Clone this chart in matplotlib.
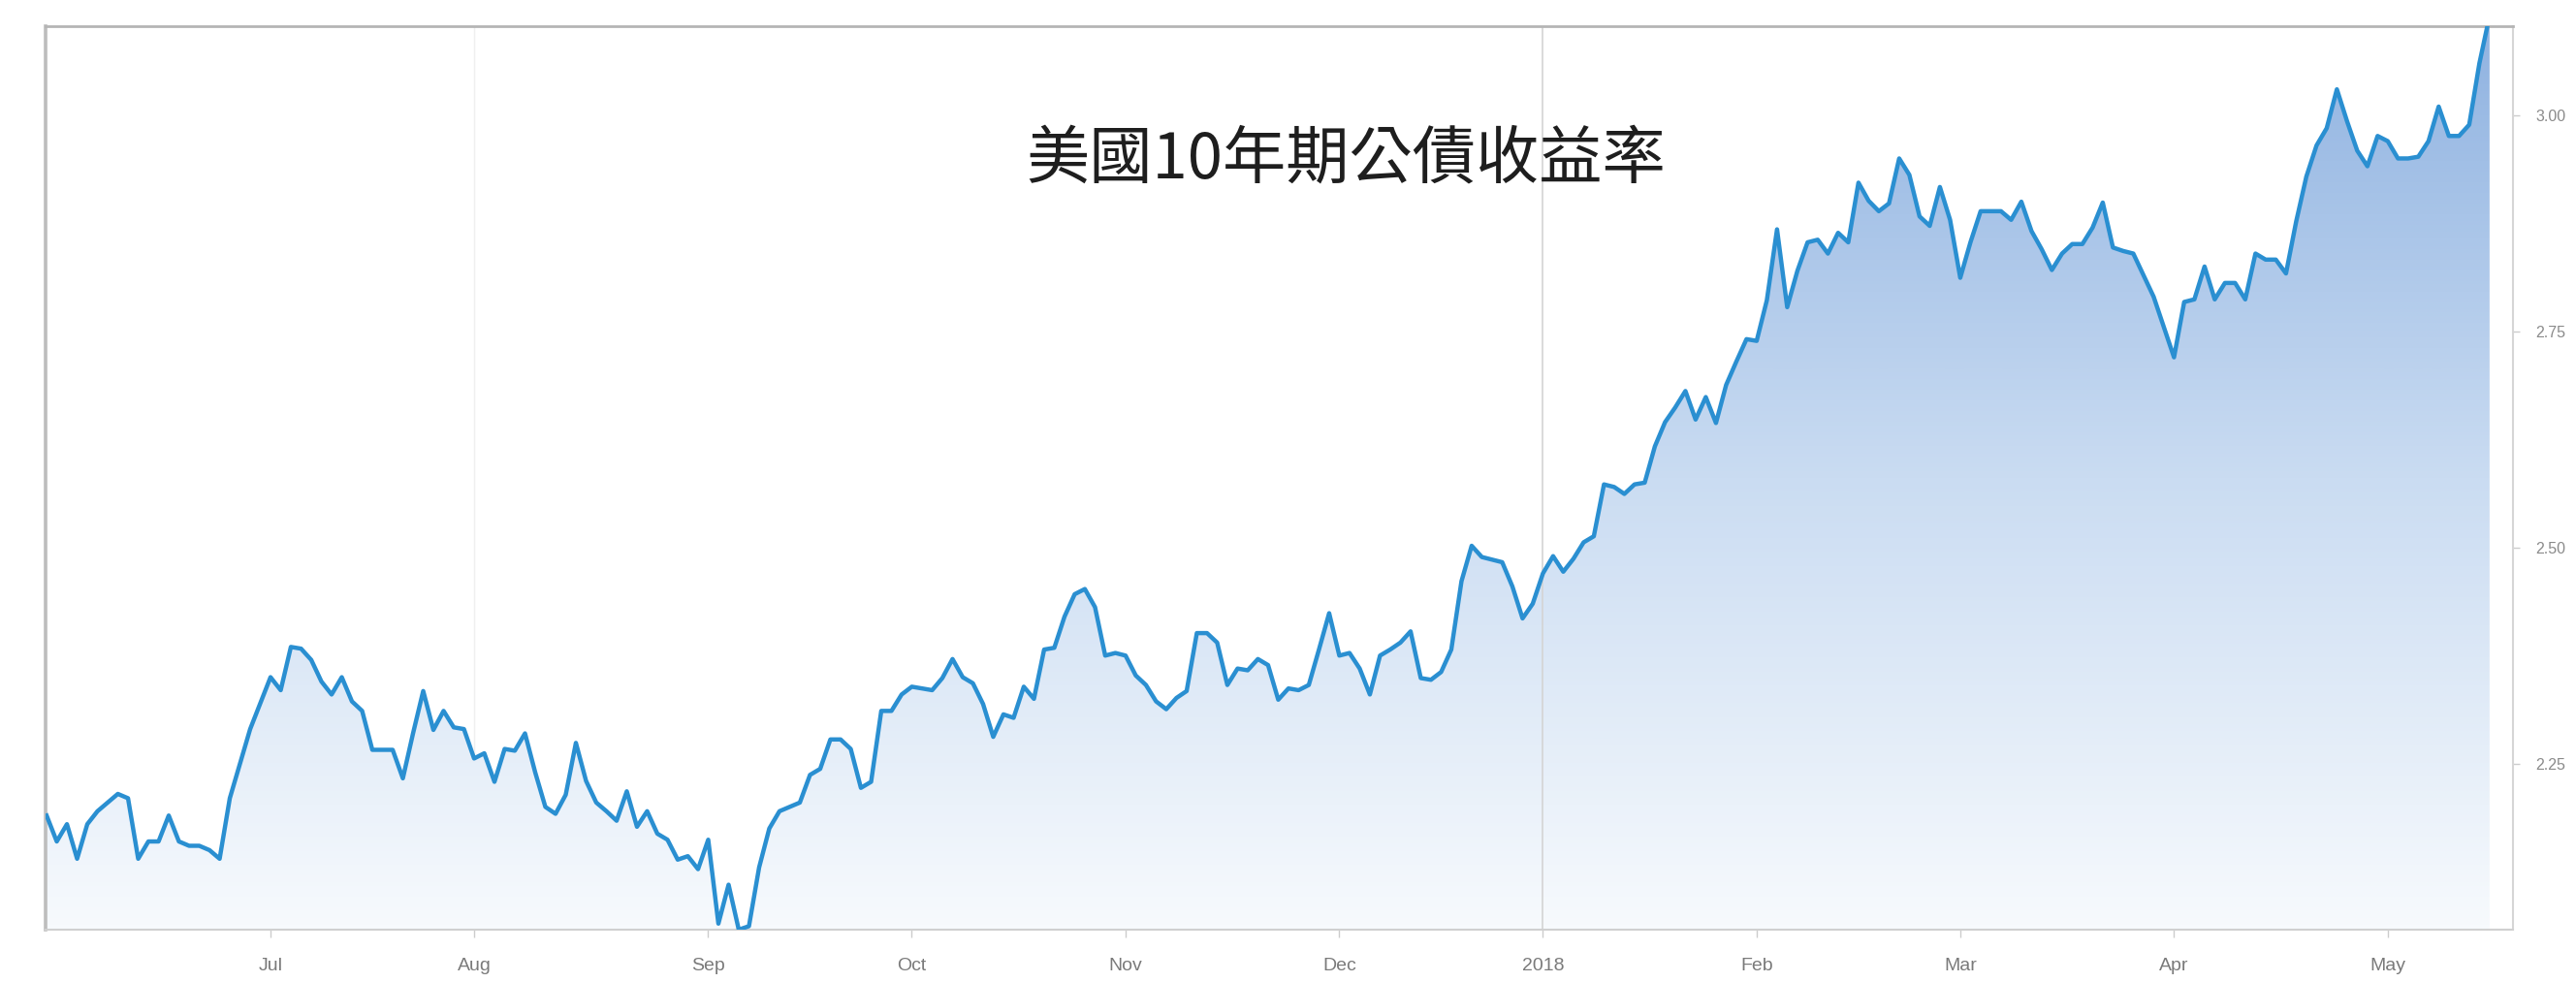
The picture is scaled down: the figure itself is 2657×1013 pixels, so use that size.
import numpy as np
import matplotlib
matplotlib.use('Agg')
from matplotlib import pyplot as plt
from matplotlib.colors import LinearSegmentedColormap
from matplotlib.patches import PathPatch

plt.rcParams['font.family'] = ['Noto Sans CJK TC', 'DejaVu Sans']

# 標題與資料 (每個交易日的收盤殖利率, 2017/06 ~ 2018/05)
title = '美國10年期公債收益率'

yields = [
    2.19, 2.16, 2.18, 2.14, 2.18, 2.195, 2.205, 2.215, 2.21, 2.14,
    2.16, 2.16, 2.19, 2.16, 2.155, 2.155, 2.15, 2.14, 2.21, 2.25,
    2.29, 2.32, 2.35, 2.335, 2.385, 2.383, 2.37, 2.345, 2.33, 2.35,
    2.322, 2.311, 2.266, 2.266, 2.266, 2.233, 2.285, 2.334, 2.289, 2.311,
    2.292, 2.29, 2.256, 2.262, 2.229, 2.267, 2.265, 2.285, 2.24, 2.20,
    2.192, 2.214, 2.274, 2.23, 2.205, 2.195, 2.184, 2.218, 2.177, 2.195,
    2.169, 2.162, 2.139, 2.143, 2.128, 2.162, 2.065, 2.110, 2.058, 2.062,
    2.13, 2.175, 2.195, 2.20, 2.205, 2.237, 2.244, 2.278, 2.278, 2.267,
    2.222, 2.229, 2.311, 2.311, 2.330, 2.339, 2.337, 2.335, 2.349, 2.371,
    2.350, 2.343, 2.319, 2.281, 2.307, 2.303, 2.339, 2.325, 2.382, 2.384,
    2.42, 2.446, 2.452, 2.431, 2.375, 2.378, 2.375, 2.352, 2.341, 2.322,
    2.313, 2.326, 2.334, 2.401, 2.401, 2.390, 2.341, 2.360, 2.358, 2.371,
    2.364, 2.324, 2.337, 2.335, 2.341, 2.382, 2.424, 2.375, 2.378, 2.360,
    2.330, 2.375, 2.382, 2.390, 2.403, 2.349, 2.347, 2.356, 2.382, 2.461,
    2.502, 2.489, 2.486, 2.483, 2.455, 2.418, 2.435, 2.470, 2.490, 2.472,
    2.487, 2.506, 2.513, 2.573, 2.570, 2.562, 2.573, 2.575, 2.617, 2.645,
    2.662, 2.681, 2.648, 2.674, 2.644, 2.688, 2.715, 2.741, 2.739, 2.786,
    2.868, 2.778, 2.820, 2.853, 2.856, 2.840, 2.864, 2.853, 2.922, 2.901,
    2.889, 2.898, 2.950, 2.931, 2.883, 2.872, 2.917, 2.879, 2.812, 2.853,
    2.889, 2.889, 2.889, 2.879, 2.900, 2.866, 2.845, 2.821, 2.840, 2.851,
    2.851, 2.870, 2.899, 2.847, 2.843, 2.840, 2.815, 2.790, 2.755, 2.720,
    2.784, 2.787, 2.825, 2.787, 2.806, 2.806, 2.787, 2.840, 2.833, 2.833,
    2.817, 2.877, 2.929, 2.965, 2.985, 3.030, 2.993, 2.959, 2.941, 2.976,
    2.970, 2.950, 2.950, 2.952, 2.970, 3.010, 2.976, 2.976, 2.989, 3.060,
    3.115,
]

# 每月第一個交易日的序號
month_labels = ['Jul', 'Aug', 'Sep', 'Oct', 'Nov', 'Dec', '2018', 'Feb', 'Mar', 'Apr', 'May']
month_start = [22, 42, 65, 85, 106, 127, 147, 168, 188, 209, 230]

y_ticks = [2.25, 2.50, 2.75, 3.00]
y_lo, y_hi = 2.058, 3.103

day = np.arange(len(yields))

W, H = 2657, 1013
fig = plt.figure(figsize=(W / 100, H / 100), dpi=100)
ax = fig.add_axes([47 / W, 1 - 959 / H, (2592 - 47) / W, (959 - 27) / H])

# 漸層填色
fill = ax.fill_between(day, yields, y_lo - 0.2, facecolor='none', edgecolor='none')
clip = PathPatch(fill.get_paths()[0], transform=ax.transData,
                 facecolor='none', edgecolor='none')
ax.add_patch(clip)
cmap = LinearSegmentedColormap.from_list('grad', ['#f7fafd', '#cadcf2', '#90b3e1'])
grad = np.linspace(1, 0, 300).reshape(-1, 1)
im = ax.imshow(grad, cmap=cmap, aspect='auto', origin='upper',
               extent=[day[0], day[-1], y_lo, y_hi], interpolation='bicubic', zorder=1)
im.set_clip_path(clip)

# 格線
ax.axvline(month_start[1], color='#efefef', lw=1, zorder=0.5)
ax.axvline(month_start[6], color='#d4d4d4', lw=1.2, zorder=2)

ax.plot(day, yields, color='#2a8fd1', lw=3.2, zorder=3, solid_joinstyle='round')

ax.set_xlim(-0.1, 242.3)
ax.set_ylim(y_lo, y_hi)

ax.set_xticks(month_start, month_labels)
ax.yaxis.tick_right()
ax.set_yticks(y_ticks, [f'{v:.2f}' for v in y_ticks])
ax.tick_params(axis='x', length=6, width=1, color='#cccccc', labelcolor='#7a7a7a',
               labelsize=14, pad=15)
ax.tick_params(axis='y', length=5, width=1, color='#cccccc', labelcolor='#8a8a8a',
               labelsize=11.5, pad=12)
for lab in ax.get_xticklabels() + ax.get_yticklabels():
    lab.set_fontfamily(['Liberation Sans', 'DejaVu Sans'])

ax.spines['left'].set_color('#bdbdbd')
ax.spines['left'].set_linewidth(2.6)
ax.spines['top'].set_color('#b5b5b5')
ax.spines['top'].set_linewidth(2.0)
ax.spines['right'].set_color('#d6d6d6')
ax.spines['right'].set_linewidth(1.5)
ax.spines['bottom'].set_color('#d0d0d0')
ax.spines['bottom'].set_linewidth(1.5)

fig.text(1388 / W, 1 - 165 / H, title, ha='center', va='center',
         fontsize=47, color='#1e1e1e')

fig.savefig('out.png', dpi=100)
